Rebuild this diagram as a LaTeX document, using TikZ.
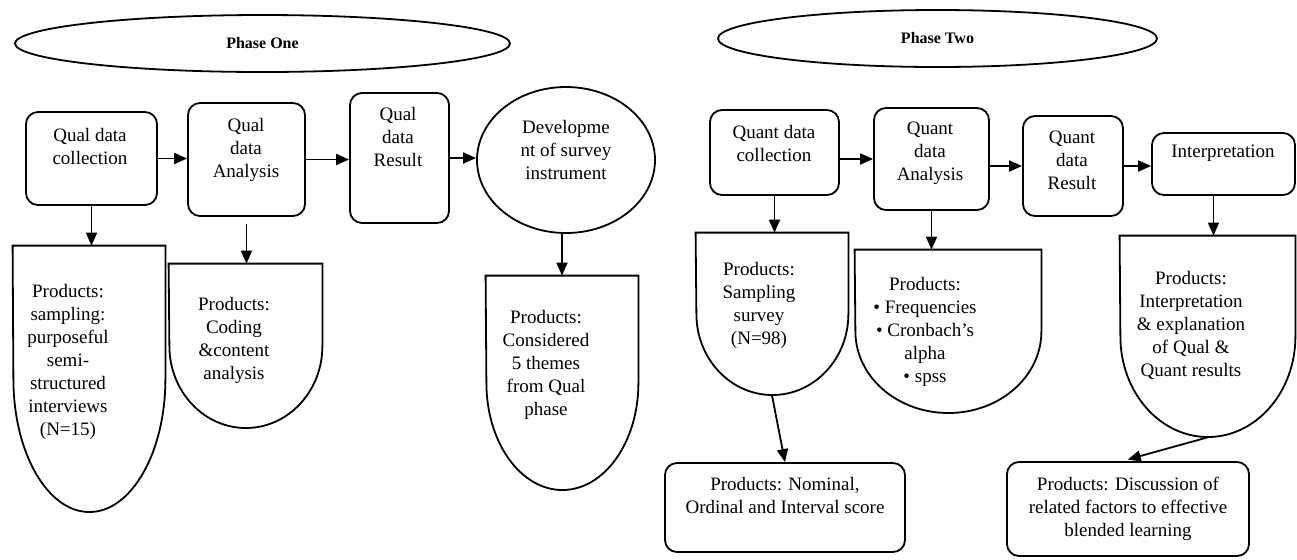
\documentclass[tikz,border=0pt]{standalone}
\usepackage{fontspec}
\setmainfont{Liberation Serif}
\usetikzlibrary{arrows.meta,shapes.geometric}

\begin{document}
\begin{tikzpicture}[x=0.5pt, y=-0.5pt,
    box/.style={draw, rounded corners=6pt, line width=0.9pt, inner sep=0pt},
    phase/.style={draw, ellipse, line width=0.9pt, inner sep=0pt, font=\bfseries\fontsize{8}{9.6}\selectfont},
    prod/.style={inner sep=0pt},
    outline/.style={line width=0.9pt},
    txt/.style={align=center, inner sep=0pt, font=\fontsize{9.5}{11.5}\selectfont},
    arr/.style={-{Triangle[length=6.5pt,width=5.5pt]}, line width=0.9pt}]
  \useasboundingbox (0,0) rectangle (1297,559);

  % Phase headers
  \node[phase, minimum width=247.5pt, minimum height=28.5pt] (ph1) at (262.5,43.5) {Phase One};
  \node[phase, minimum width=219.5pt, minimum height=28.5pt] (ph2) at (937.5,38.5) {Phase Two};

  % Phase one: steps
  \node[box, minimum width=65.5pt, minimum height=46.5pt] (qlc) at (91.5,158.5) {};
  \node[box, minimum width=58.5pt, minimum height=56.5pt] (qla) at (246.5,159.5) {};
  \node[box, minimum width=49.5pt, minimum height=65pt] (qlr) at (399.5,158) {};
  \node[draw, ellipse, line width=0.9pt, inner sep=0pt, minimum width=89pt, minimum height=73pt] (dev) at (566,160) {};
  \node[txt] (qlct) at (90,146) {Qual data\\collection};
  \node[txt] (qlat) at (246,150) {Qual\\data\\Analysis};
  \node[txt] (qlrt) at (398,137) {Qual\\data\\Result};
  \node[txt] (devt) at (566,150) {Developme\\nt of survey\\instrument};

  % Phase one: products
  \node[prod, minimum width=76pt, minimum height=133pt] (p1) at (89,379) {};
  \draw[outline] (p1.north west) -- (p1.north east) -- (p1.east)
    arc[start angle=0, end angle=-180, x radius=38pt, y radius=66.5pt] -- cycle;
  \node[prod, minimum width=76.5pt, minimum height=82pt] (p2) at (245.5,346) {};
  \draw[outline] (p2.north west) -- (p2.north east) -- (p2.east)
    arc[start angle=0, end angle=-180, x radius=38.25pt, y radius=41pt] -- cycle;
  \node[prod, minimum width=76pt, minimum height=107pt] (p3) at (562,383) {};
  \draw[outline] (p3.north west) -- (p3.north east) -- (p3.east)
    arc[start angle=0, end angle=-180, x radius=38pt, y radius=53.5pt] -- cycle;
  \node[txt] (p1t) at (68,362) {Products:\\sampling:\\purposeful\\semi-\\structured\\interviews\\(N=15)};
  \node[txt] (p2t) at (234,340) {Products:\\Coding\\\&content\\analysis};
  \node[txt] (p3t) at (546,365) {Products:\\Considered\\5 themes\\from Qual\\phase};

  % Phase one: arrows
  \draw[arr] (qlc.east) -- (qlc.east -| qla.west);
  \draw[arr] (qla.east) -- (qla.east -| qlr.west);
  \draw[arr] (qlr.east) -- (qlr.east -| dev.west);
  \draw[arr] (qlc.south) -- (qlc.south |- p1.north);
  \draw[arr] ([yshift=-3.5pt]qla.south) -- (qla.south |- p2.north);
  \draw[arr] (p3.north |- dev.south) -- (p3.north);

  % Phase two: steps
  \node[box, minimum width=64.5pt, minimum height=42.5pt] (qnc) at (774.5,152.5) {};
  \node[box, minimum width=57.5pt, minimum height=51pt] (qna) at (931.5,159) {};
  \node[box, minimum width=50pt, minimum height=50pt] (qnr) at (1073,166) {};
  \node[box, minimum width=71.5pt, minimum height=31pt] (interp) at (1223.5,164) {};
  \node[txt] (qnct) at (774,143) {Quant data\\collection};
  \node[txt] (qnat) at (930,153) {Quant\\data\\Analysis};
  \node[txt] (qnrt) at (1072,160) {Quant\\data\\Result};
  \node[txt] (intt) at (1223,153) {Interpretation};

  % Phase two: products
  \node[prod, minimum width=76pt, minimum height=81pt] (p4) at (772,314) {};
  \draw[outline] (p4.north west) -- (p4.north east) -- (p4.east)
    arc[start angle=0, end angle=-180, x radius=38pt, y radius=40.5pt] -- cycle;
  \node[prod, minimum width=93pt, minimum height=81.5pt] (p5) at (948,331.5) {};
  \draw[outline] (p5.north west) -- (p5.north east) -- (p5.east)
    arc[start angle=0, end angle=-180, x radius=46.5pt, y radius=40.75pt] -- cycle;
  \node[prod, minimum width=87.5pt, minimum height=100.5pt] (p6) at (1207.5,336.5) {};
  \draw[outline] (p6.north west) -- (p6.north east) -- (p6.east)
    arc[start angle=0, end angle=-180, x radius=43.75pt, y radius=50.25pt] -- cycle;
  \node[txt] (p4t) at (759,305) {Products:\\Sampling\\survey\\(N=98)};
  \node[txt] (p5t) at (925,332) {Products:\\\textbullet\ Frequencies\\\textbullet\ Cronbach's\\alpha\\\textbullet\ spss};
  \node[txt] (p6t) at (1191,325) {Products:\\Interpretation\\\& explanation\\of Qual \&\\Quant results};

  % Final products
  \node[box, minimum width=120pt, minimum height=44.5pt] (nom) at (785,507.5) {};
  \node[txt] (nomt) at (785,495) {Products: Nominal,\\Ordinal and Interval score};
  \node[box, txt, rounded corners=6pt, inner sep=0pt, minimum width=121pt, minimum height=47pt] (disc) at (1128,509)
    {Products: Discussion of\\related factors to effective\\blended learning};

  % Phase two: arrows
  \draw[arr] (qnc.east |- qna.west) -- (qna.west);
  \draw[arr] (qna.east |- qnr.west) -- (qnr.west);
  \draw[arr] (qnr.east) -- (qnr.east -| interp.west);
  \draw[arr] (qnc.south) -- (qnc.south |- p4.north);
  \draw[arr] (qna.south) -- (qna.south |- p5.north);
  \draw[arr] ([xshift=3pt]p6.north |- interp.south) -- ([xshift=3pt]p6.north);
  \draw[arr] (p4.south) -- (nom.north);
  \draw[arr, shorten >=3pt] (p6.south) -- ([xshift=-3pt]disc.north);
\end{tikzpicture}
\end{document}
